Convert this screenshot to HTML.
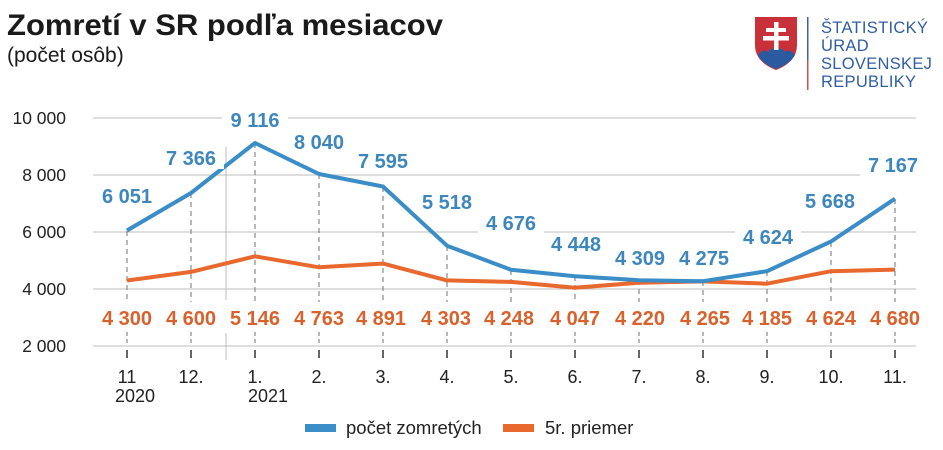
<!DOCTYPE html>
<html><head><meta charset="utf-8"><style>
body{margin:0;background:#fff;}
svg{display:block;font-family:"Liberation Sans",Arial,sans-serif;}
</style></head><body>
<svg width="943" height="450" viewBox="0 0 943 450" xmlns="http://www.w3.org/2000/svg">
<text x="7" y="35" font-size="30" font-weight="bold" fill="#1a1a1a" textLength="436" lengthAdjust="spacingAndGlyphs">Zomretí v SR podľa mesiacov</text>
<text x="7" y="62" font-size="21" fill="#1a1a1a">(počet osôb)</text>
<!-- logo -->
<path d="M755 17 H797 V45 Q797 62 776 70 Q755 62 755 45 Z" fill="#c8313a"/>
<path d="M758 55 Q763 48 768 52 Q772 46 776 50 Q781 46 785 52 Q790 48 795 55 Q790 64 776 69 Q762 64 758 55Z" fill="#2c5aa0"/>
<rect x="774" y="22" width="4.5" height="28" fill="#fff"/>
<rect x="766" y="28" width="20" height="4" fill="#fff"/>
<rect x="763" y="36" width="26" height="4.5" fill="#fff"/>
<rect x="807" y="17" width="1.5" height="43" fill="#3b5fa8"/>
<rect x="807" y="60" width="1.5" height="30" fill="#d05050"/>
<g font-size="16.5" fill="#2f5ea3" letter-spacing="0.3">
<text x="821" y="33">ŠTATISTICKÝ</text>
<text x="821" y="51">ÚRAD</text>
<text x="821" y="69">SLOVENSKEJ</text>
<text x="821" y="87">REPUBLIKY</text>
</g>
<!-- grid -->
<g stroke="#bdbdbd" stroke-width="1">
<line x1="93" y1="118" x2="916" y2="118"/>
<line x1="93" y1="175" x2="916" y2="175"/>
<line x1="93" y1="232" x2="916" y2="232"/>
<line x1="93" y1="289" x2="916" y2="289"/>
<line x1="93" y1="346" x2="916" y2="346"/>
<line x1="226" y1="147" x2="226" y2="300"/>
<line x1="226" y1="333" x2="226" y2="360"/>
</g>
<g font-size="17.5" fill="#222" text-anchor="end">
<text x="66" y="124">10 000</text>
<text x="66" y="181">8 000</text>
<text x="66" y="238">6 000</text>
<text x="66" y="295">4 000</text>
<text x="66" y="352">2 000</text>
</g>
<!-- dashed verticals -->
<g stroke="#888" stroke-width="1.2" stroke-dasharray="5,4">
<line x1="127" y1="231" x2="127" y2="302"/><line x1="191" y1="193" x2="191" y2="302"/><line x1="255" y1="143" x2="255" y2="302"/><line x1="319" y1="174" x2="319" y2="302"/><line x1="383" y1="187" x2="383" y2="302"/><line x1="447" y1="246" x2="447" y2="302"/><line x1="511" y1="270" x2="511" y2="302"/><line x1="575" y1="276" x2="575" y2="302"/><line x1="639" y1="280" x2="639" y2="302"/><line x1="703" y1="281" x2="703" y2="302"/><line x1="767" y1="271" x2="767" y2="302"/><line x1="831" y1="242" x2="831" y2="302"/><line x1="895" y1="199" x2="895" y2="302"/>
</g>
<g stroke="#888" stroke-width="1.2" stroke-dasharray="4,3">
<line x1="127" y1="332" x2="127" y2="346"/><line x1="191" y1="332" x2="191" y2="346"/><line x1="255" y1="332" x2="255" y2="346"/><line x1="319" y1="332" x2="319" y2="346"/><line x1="383" y1="332" x2="383" y2="346"/><line x1="447" y1="332" x2="447" y2="346"/><line x1="511" y1="332" x2="511" y2="346"/><line x1="575" y1="332" x2="575" y2="346"/><line x1="639" y1="332" x2="639" y2="346"/><line x1="703" y1="332" x2="703" y2="346"/><line x1="767" y1="332" x2="767" y2="346"/><line x1="831" y1="332" x2="831" y2="346"/><line x1="895" y1="332" x2="895" y2="346"/>
</g>
<g stroke="#333" stroke-width="1.5">
<line x1="127" y1="350" x2="127" y2="358"/><line x1="191" y1="350" x2="191" y2="358"/><line x1="255" y1="350" x2="255" y2="358"/><line x1="319" y1="350" x2="319" y2="358"/><line x1="383" y1="350" x2="383" y2="358"/><line x1="447" y1="350" x2="447" y2="358"/><line x1="511" y1="350" x2="511" y2="358"/><line x1="575" y1="350" x2="575" y2="358"/><line x1="639" y1="350" x2="639" y2="358"/><line x1="703" y1="350" x2="703" y2="358"/><line x1="767" y1="350" x2="767" y2="358"/><line x1="831" y1="350" x2="831" y2="358"/><line x1="895" y1="350" x2="895" y2="358"/>
</g>
<g font-size="18" fill="#222" text-anchor="middle">
<text x="127" y="383">11</text><text x="191" y="383">12.</text><text x="255" y="383">1.</text><text x="319" y="383">2.</text><text x="383" y="383">3.</text><text x="447" y="383">4.</text><text x="511" y="383">5.</text><text x="575" y="383">6.</text><text x="639" y="383">7.</text><text x="703" y="383">8.</text><text x="767" y="383">9.</text><text x="831" y="383">10.</text><text x="895" y="383">11.</text>
<text x="135" y="402">2020</text><text x="268" y="402">2021</text>
</g>
<!-- series -->
<polyline fill="none" stroke="#e8682e" stroke-width="4" stroke-linejoin="round" points="127,280.5 191,271.9 255,256.3 319,267.3 383,263.6 447,280.4 511,281.9 575,287.7 639,282.7 703,281.4 767,283.7 831,271.2 895,269.6"/>
<polyline fill="none" stroke="#3a8dc6" stroke-width="4" stroke-linejoin="round" points="127,230.5 191,193 255,143 319,174 383,186.5 447,245.7 511,269.7 575,276.2 639,280.2 703,281.2 767,271.2 831,241.5 895,198.7"/>
<!-- blue labels with white bg -->
<g fill="#fff">
<rect x="94" y="185" width="66" height="22"/><rect x="158" y="147" width="66" height="22"/><rect x="222" y="109" width="66" height="22"/><rect x="286" y="131" width="66" height="22"/><rect x="350" y="150" width="66" height="22"/><rect x="414" y="191" width="66" height="22"/><rect x="478" y="212" width="66" height="22"/><rect x="543" y="233" width="66" height="22"/><rect x="607" y="247" width="66" height="22"/><rect x="671" y="247" width="66" height="22"/><rect x="735" y="226" width="66" height="22"/><rect x="797" y="190" width="66" height="22"/><rect x="860" y="154" width="66" height="22"/>
</g>
<g font-size="20" font-weight="bold" fill="#3d87bd" text-anchor="middle">
<text x="127" y="203">6 051</text><text x="191" y="165">7 366</text><text x="255" y="127">9 116</text><text x="319" y="149">8 040</text><text x="383" y="168">7 595</text><text x="447" y="209">5 518</text><text x="511" y="230">4 676</text><text x="576" y="251">4 448</text><text x="640" y="265">4 309</text><text x="704" y="265">4 275</text><text x="768" y="244">4 624</text><text x="830" y="208">5 668</text><text x="893" y="172">7 167</text>
</g>
<g font-size="20" font-weight="bold" fill="#d9622c" text-anchor="middle">
<text x="127" y="325">4 300</text><text x="191" y="325">4 600</text><text x="255" y="325">5 146</text><text x="319" y="325">4 763</text><text x="381" y="325">4 891</text><text x="446" y="325">4 303</text><text x="509" y="325">4 248</text><text x="575" y="325">4 047</text><text x="640" y="325">4 220</text><text x="705" y="325">4 265</text><text x="767" y="325">4 185</text><text x="831" y="325">4 624</text><text x="895" y="325">4 680</text>
</g>
<!-- legend -->
<rect x="305" y="424" width="31" height="8" fill="#3a8dc6"/>
<text x="346" y="434" font-size="18.5" fill="#222">počet zomretých</text>
<rect x="503" y="424" width="31" height="8" fill="#e8682e"/>
<text x="545" y="434" font-size="18.5" fill="#222">5r. priemer</text>
</svg>
</body></html>
